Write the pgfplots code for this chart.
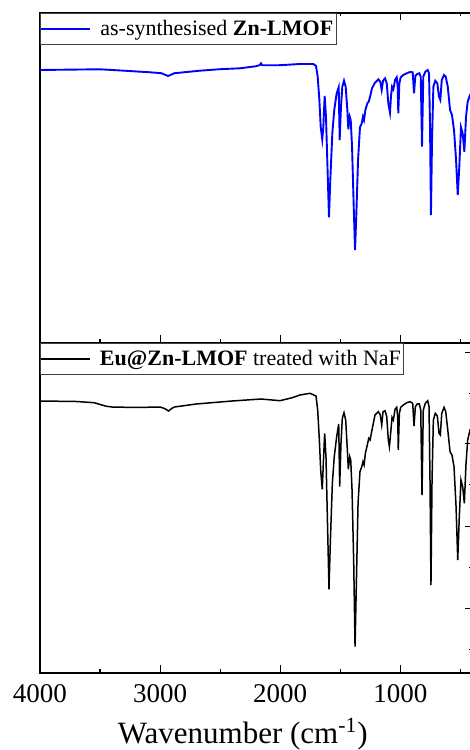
\documentclass[border=0pt]{standalone}
\usepackage{pgfplots}
\pgfplotsset{compat=1.18}
\usepackage{fontspec}
\setmainfont{Liberation Serif}
\begin{document}
\begin{tikzpicture}
\pgfplotsset{
  irstyle/.style={
    scale only axis, width=216.2pt, height=165pt,
    xmin=400, xmax=4000, x dir=reverse,
    ymin=0, ymax=330,
    xtick={1000,2000,3000,4000},
    minor xtick={500,1500,2500,3500},
    tick align=inside,
    axis line style={line width=1pt},
    every tick/.style={line width=0.6pt, black},
    major tick length=3.8pt, minor tick length=1.8pt,
    /pgf/number format/assume math mode=true,
    /pgf/number format/1000 sep={},
    tick label style={font=\rmfamily\fontsize{13.5}{16}\selectfont},
    legend cell align=left,
    legend style={at={(0,1)}, anchor=north west, draw=black!75, line width=0.5pt,
      fill=white, inner xsep=0pt, inner ysep=0pt,
      font=\fontsize{11}{13}\selectfont,
      nodes={inner xsep=1.5pt, inner ysep=3.3pt},
      /tikz/every odd column/.append style={column sep=3pt}},
    legend image code/.code={\draw[#1] (0pt,0pt) -- (24.5pt,0pt);},
  }
}
% top panel
\begin{axis}[irstyle, at={(0pt,165pt)}, anchor=south west,
  xtick pos=both, xticklabels={}, ytick=\empty]
\addplot[blue, line width=0.95pt] coordinates {
(4000,272.7)(3800,273.0)(3500,273.4)(3300,272)(3084,270.4)(2990,269.5)(2934,266.7)(2880,269.5)
(2668,272)(2500,273.5)(2335,274.4)(2200,276.5)(2170,277.7)(2160,279.4)(2150,277.4)(2000,277.5)
(1835,278.7)(1724,278.7)(1702,276.7)(1688,266)(1674,242.7)(1663,216)(1650,203.4)(1641,216)
(1630,246.7)(1619,226)(1605,169.7)(1594,125.4)(1583,162.7)(1566,209.7)(1550,232.7)(1530,249.4)
(1513,255.4)(1505,202.7)(1494,236)(1483,256)(1469,262)(1455,256)(1441,232.7)(1433,213.4)
(1421,226)(1413,222.7)(1402,196)(1388,136)(1377,92.7)(1366,129.4)(1352,182.7)(1336,215.4)
(1321,219.4)(1311,226)(1302,222.7)(1291,232.7)(1275,239.4)(1263,241)(1252,246)(1236,254.4)
(1211,260)(1183,263.4)(1167,261)(1155,252.7)(1144,262)(1127,264.4)(1113,259.4)(1100,239.4)
(1086,230)(1078,246)(1069,256)(1058,253.4)(1044,262.7)(1030,265.4)(1022,256)(1017,229.4)
(1008,259.4)(997,265.4)(975,267.7)(947,269.4)(919,270.7)(897,270.4)(886,249.4)(875,266.7)
(859,268.7)(842,269.4)(830,266)(819.5,196)(809,266)(792,271)(772,272.7)(761,269.4)
(753,219.4)(745,127.7)(736,202.7)(725,256)(709,262)(692,259.4)(678,246)(667,242.7)
(655,262.7)(636,267.7)(622,266)(605,256)(586,232.7)(570,227.7)(553,212.7)(536,182.7)
(522,147.7)(509,176)(495,215.4)(481,209.4)(467,191)(453,226)(439,241)(420,247.7)(400,250)
};
\addlegendentry{as-synthesised \textbf{Zn-LMOF}\hspace{6.5pt}}
\end{axis}
% bottom panel
\begin{axis}[irstyle, at={(0pt,0pt)}, anchor=south west,
  xtick pos=left, ytick pos=right, yticklabels={},
  xticklabel style={yshift=-2.5pt},
  ytick={64,146,229,320}, minor ytick={23,105,188,279},
  xlabel={Wavenumber (cm\textsuperscript{-1})},
  xlabel style={font=\fontsize{15.5}{18}\selectfont, at={(axis description cs:0.469,0)}, anchor=base, yshift=-35.2pt}]
\addplot[black, line width=0.75pt] coordinates {
(4000,271.7)(3700,271.2)(3550,270)(3450,266.5)(3400,265.7)(3200,265.2)(3000,265.7)(2960,264)
(2930,261.7)(2900,264.5)(2880,265.7)(2700,268.7)(2400,271.7)(2160,273.7)(2002,272)(1900,275)
(1835,277.7)(1752,279.4)(1702,276.7)(1688,262.7)(1674,232.7)(1663,202.7)(1650,183.4)(1641,209.4)
(1630,239.4)(1619,216)(1605,142.7)(1594,83.4)(1583,129.4)(1566,189.4)(1550,216)(1530,236)
(1513,248.7)(1505,186)(1494,229.4)(1483,254.4)(1469,260)(1455,252.7)(1441,222.7)(1433,203.4)
(1421,216)(1413,212.7)(1402,182.7)(1388,109.4)(1377,26)(1366,89.4)(1352,169.4)(1336,201)
(1321,206)(1311,211)(1302,207.7)(1291,219.4)(1275,227.7)(1263,234.4)(1252,232.7)(1236,242.7)
(1211,257.7)(1183,261)(1167,257.7)(1155,247.7)(1144,261)(1127,262)(1113,256)(1100,232.7)
(1091,226)(1078,242.7)(1069,255.4)(1058,252.7)(1044,263.4)(1030,265.4)(1022,256)(1017,222.7)
(1008,259.4)(997,265.4)(975,267.7)(947,270)(919,271)(897,269.4)(886,246.7)(875,266)
(859,268.7)(842,268.7)(830,262.7)(819.5,177.7)(809,262.7)(792,269.4)(772,272)(761,266)
(753,192.7)(745,87.7)(736,192.7)(725,252.7)(709,259.4)(692,256.7)(678,239.4)(667,237.7)
(655,259.4)(636,265.4)(622,261)(605,242.7)(586,221)(570,217.7)(553,206)(536,166)
(522,112.7)(509,156)(495,192.7)(481,186)(467,169.4)(453,209.4)(439,232.7)(420,242.7)(400,245)
};
\addlegendentry{\textbf{Eu@Zn-LMOF} treated with NaF\hspace{4.5pt}}
\end{axis}
\pgfresetboundingbox
\useasboundingbox (-20pt,-38.65pt) rectangle (215pt,336.35pt);
\end{tikzpicture}
\end{document}
